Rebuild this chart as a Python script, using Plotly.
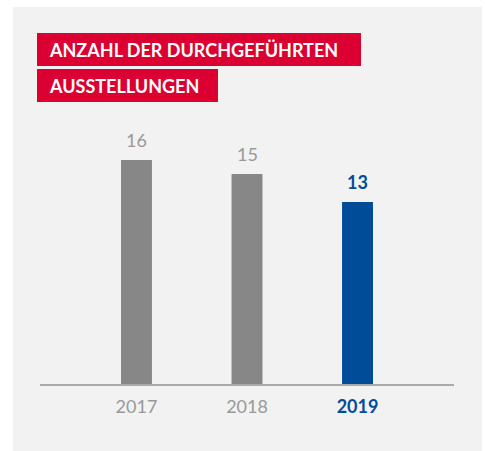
import plotly.graph_objects as go

years = ["2017", "2018", "2019"]
values = [16, 15, 13]
bar_colors = ["#878787", "#878787", "#004c99"]
label_colors = ["#999999", "#999999", "#004c99"]
label_bold = [False, False, True]
title_lines = ["ANZAHL DER DURCHGEFÜHRTEN", "AUSSTELLUNGEN"]

W, H = 485, 451
ML, MR, MT, MB = 40, 31, 110, 67
PW = W - ML - MR
PH = H - MT - MB


def px(x):
    return (x - ML) / PW


def py(y):
    return (H - MB - y) / PH


def fmt(t, bold):
    return f"<b>{t}</b>" if bold else t


fig = go.Figure()
fig.add_trace(go.Bar(
    x=list(range(len(years))), y=values,
    marker=dict(color=bar_colors, line=dict(width=0)),
    width=0.28, hoverinfo="skip",
))

shapes = [
    dict(type="rect", xref="paper", yref="paper", x0=px(13), x1=px(482), y0=py(451), y1=py(7),
         fillcolor="#f2f2f2", line=dict(width=0), layer="below"),
    dict(type="rect", xref="paper", yref="paper", x0=px(37), x1=px(361), y0=py(66), y1=py(33),
         fillcolor="#dc0032", line=dict(width=0), layer="below"),
    dict(type="rect", xref="paper", yref="paper", x0=px(37), x1=px(218), y0=py(102), y1=py(69),
         fillcolor="#dc0032", line=dict(width=0), layer="below"),
]

annotations = []
for i, (t, yc) in enumerate(zip(title_lines, [50, 86])):
    annotations.append(dict(
        xref="paper", yref="paper", x=px(47), y=py(yc), xanchor="left", yanchor="middle",
        text=f"<b>{t}</b>", showarrow=False,
        font=dict(family="Lato", size=18, color="white"),
    ))

for i, v in enumerate(values):
    annotations.append(dict(
        x=i, y=v, xref="x", yref="y", yanchor="bottom", yshift=7,
        text=fmt(str(v), label_bold[i]), showarrow=False,
        font=dict(family="Lato", size=18, color=label_colors[i]),
    ))

ticktext = [f"<span style='color:{c}'>{fmt(y, b)}</span>" for y, c, b in zip(years, label_colors, label_bold)]

fig.update_layout(
    width=W, height=H,
    margin=dict(l=ML, r=MR, t=MT, b=MB),
    paper_bgcolor="white",
    plot_bgcolor="rgba(0,0,0,0)",
    showlegend=False,
    shapes=shapes,
    annotations=annotations,
    xaxis=dict(
        range=[-0.873, 2.873], tickvals=list(range(len(years))), ticktext=ticktext,
        showline=True, linecolor="#aaaaaa", linewidth=2, showgrid=False, zeroline=False,
        ticks="", tickfont=dict(family="Lato", size=18, color="#999999"),
        ticklabelstandoff=5,
        fixedrange=True,
    ),
    yaxis=dict(range=[0, PH / 14], visible=False, fixedrange=True),
)

fig.write_html("out.html", config={"displayModeBar": False},
               post_script="document.body.style.margin='0';")
